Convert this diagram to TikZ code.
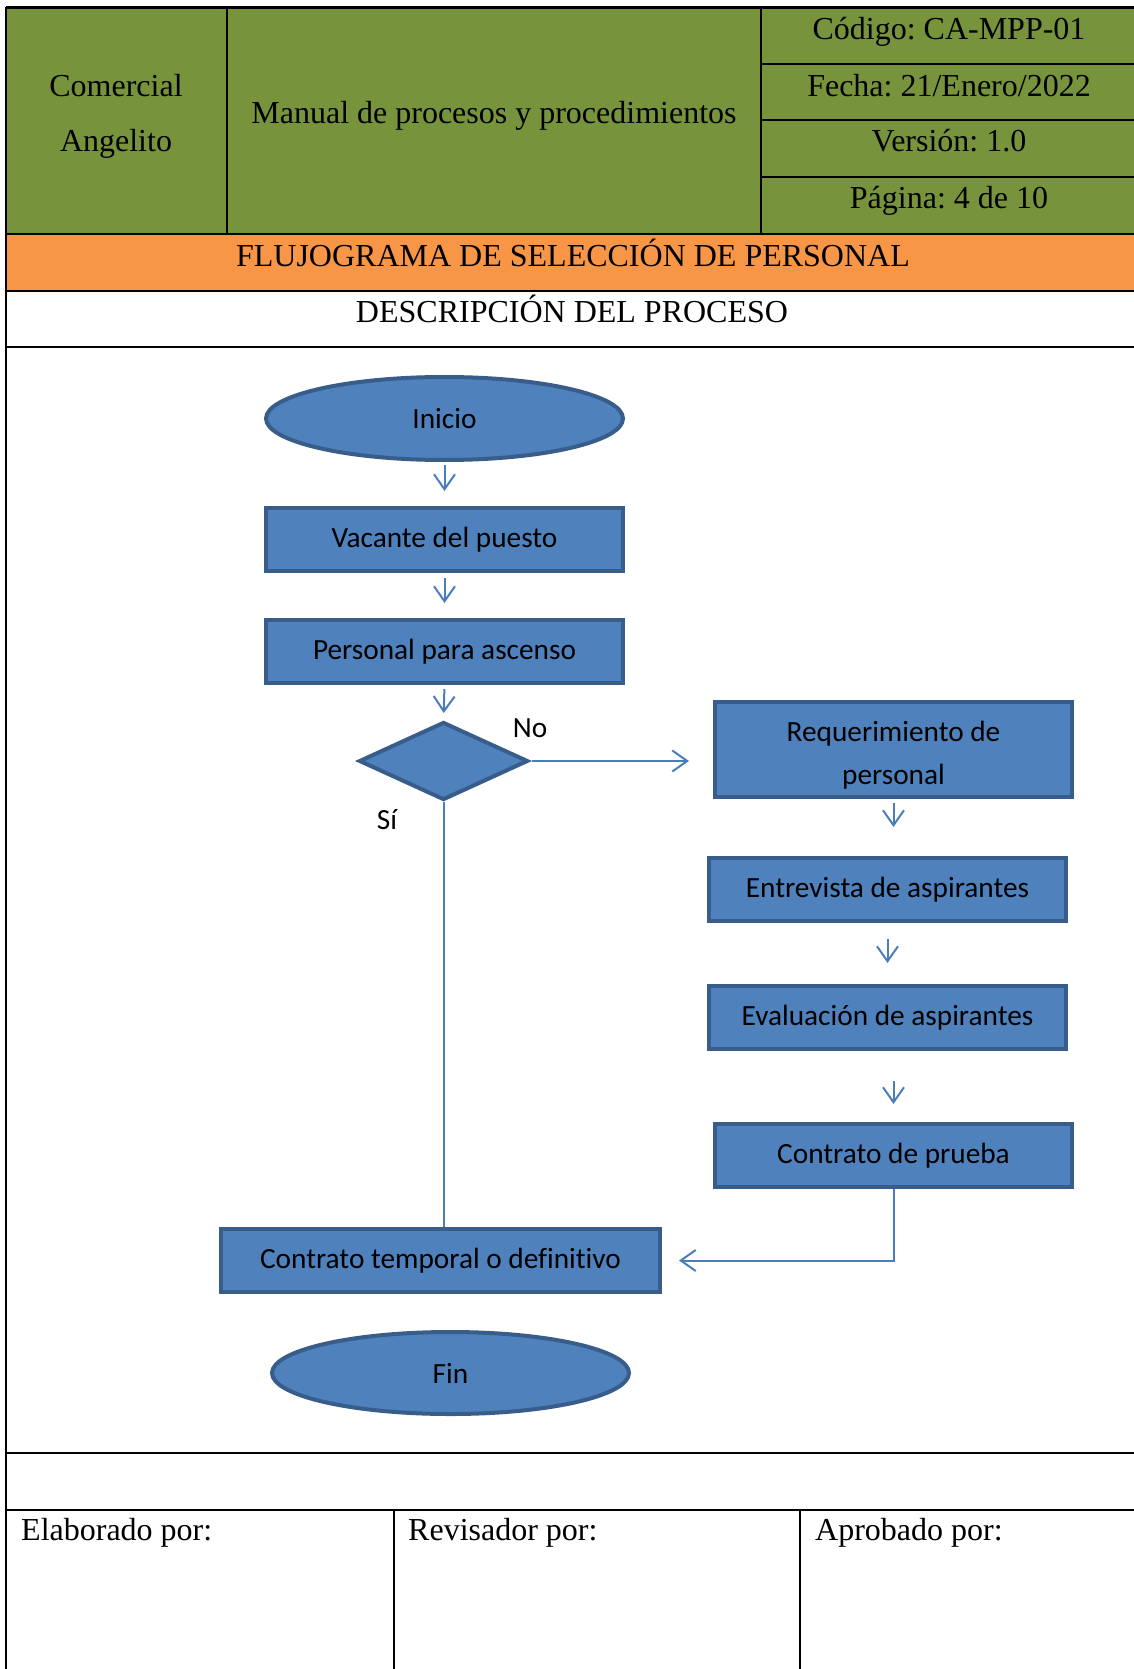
\documentclass[tikz,border=0pt]{standalone}
\usepackage{fontspec}
\setmainfont{Liberation Serif}
\newfontfamily\calib[Ligatures=CommonOff]{Carlito}
\frenchspacing
\usetikzlibrary{shapes.geometric,arrows.meta,calc}
\definecolor{hdrgreen}{HTML}{77933C}
\definecolor{hdrorange}{HTML}{F79646}
\definecolor{boxfill}{HTML}{4F81BD}
\definecolor{boxline}{HTML}{385D8A}
\definecolor{arrowc}{HTML}{4A7EBB}
\begin{document}
\begin{tikzpicture}[x=1pt,y=-1pt,
 tbl/.style={line width=2.5pt,black},
 hdr/.style={font=\frenchspacing\fontsize{32}{38}\selectfont, inner sep=0},
 flowbox/.style={draw=boxline, fill=boxfill, line width=4pt, rectangle, font=\calib\fontsize{29.3}{43}\selectfont, inner sep=0, align=center},
 flowell/.style={flowbox, ellipse},
 flowdia/.style={flowbox, diamond},
 flowarr/.style={draw=arrowc, line width=2pt, -{Straight Barb[length=15pt,width=21pt,line width=2pt]}},
 flowline/.style={draw=arrowc, line width=2pt},
 lbl/.style={font=\calib\fontsize{29.3}{35}\selectfont, inner sep=0}
]
\useasboundingbox (0,0) rectangle (1134,1669);
\fill[white] (0,0) rectangle (1134,1669);
\fill[hdrgreen] (6,7.5) rectangle (1140,234);
\fill[hdrorange] (6,234) rectangle (1140,291);
% table lines
\draw[tbl] (6,7.5) -- (1140,7.5);
\draw[tbl] (6,7.5) -- (6,1672);
\draw[tbl] (227,7.5) -- (227,234);
\draw[tbl] (761,7.5) -- (761,234);
\draw[tbl] (761,64) -- (1140,64);
\draw[tbl] (761,120) -- (1140,120);
\draw[tbl] (761,177) -- (1140,177);
\draw[tbl] (6,234) -- (1140,234);
\draw[tbl] (6,291) -- (1140,291);
\draw[tbl] (6,347) -- (1140,347);
\draw[tbl] (6,1453) -- (1140,1453);
\draw[tbl] (6,1510) -- (1140,1510);
\draw[tbl] (394,1510) -- (394,1672);
\draw[tbl] (800,1510) -- (800,1672);
% header texts
\node[hdr] (com) at (116,86) {Comercial};
\node[hdr] (ang) at (116,144) {Angelito};
\node[hdr] (man) at (494,116) {Manual de procesos y procedimientos};
\node[hdr] (cod) at (949,32) {Código: CA-MPP-01};
\node[hdr] (fec) at (949,86) {Fecha: 21/Enero/2022};
\node[hdr] (ver) at (949,141) {Versión: 1.0};
\node[hdr] (pag) at (949,201) {Página: 4 de 10};
\node[hdr] (tit) at (573,253) {FLUJOGRAMA DE SELECCIÓN DE PERSONAL};
\node[hdr] (des) at (572,309) {DESCRIPCIÓN DEL PROCESO};
% footer texts
\node[hdr, anchor=west] (ela) at (21,1533) {Elaborado por:};
\node[hdr, anchor=west] (rev) at (408,1533) {Revisador por:};
\node[hdr, anchor=west] (apr) at (815,1533) {Aprobado por:};
% flow nodes
\node[flowell, minimum width=357pt, minimum height=83pt] (ini) at (444.5,418.5) {Inicio};
\node[flowbox, minimum width=357pt, minimum height=63pt] (vac) at (444.5,539.5) {Vacante del puesto};
\node[flowbox, minimum width=357pt, minimum height=63pt] (per) at (444.5,651.5) {Personal para ascenso};
\node[flowdia, minimum width=169pt, minimum height=78pt] (dia) at (443.5,761) {};
\node[flowbox, minimum width=357pt, minimum height=95pt, text height=75pt] (req) at (893.5,749.5) {Requerimiento de\\personal};
\node[flowbox, minimum width=357pt, minimum height=63pt] (ent) at (887.5,889.5) {Entrevista de aspirantes};
\node[flowbox, minimum width=357pt, minimum height=63pt] (eva) at (887.5,1017.5) {Evaluación de aspirantes};
\node[flowbox, minimum width=357pt, minimum height=63pt] (cpr) at (893.5,1155.5) {Contrato de prueba};
\node[flowbox, minimum width=439pt, minimum height=63pt] (ctd) at (440.5,1260.5) {Contrato temporal o definitivo};
\node[flowell, minimum width=357pt, minimum height=82pt] (fin) at (450.5,1373) {Fin};
\node[lbl] (no) at (530,728) {No};
\node[lbl] (si) at (387,820) {Sí};
% connectors
\draw[flowarr, shorten <=3pt, shorten >=15pt] (ini.south) -- (vac.north);
\draw[flowarr, shorten <=5pt, shorten >=15pt] (vac.south) -- (per.north);
\draw[flowarr, shorten <=4pt, shorten >=7pt] (per.south) -- (dia.north);
\draw[flowarr, shorten <=2pt, shorten >=24pt] (dia.east) -- (dia.east -| req.west);
\draw[flowarr, shorten <=4pt, shorten >=29pt] (req.south) -- (req.south |- ent.north);
\draw[flowarr, shorten <=16pt, shorten >=21pt] (ent.south) -- (ent.south |- eva.north);
\draw[flowarr, shorten <=30pt, shorten >=18pt] ($(eva.south)+(6,0)$) -- ($(eva.south |- cpr.north)+(6,0)$);
\draw[flowarr, shorten >=17pt] (cpr.south) |- (ctd.east);
\draw[flowline] (dia.south) -- (dia.south |- ctd.north);
\end{tikzpicture}
\end{document}
